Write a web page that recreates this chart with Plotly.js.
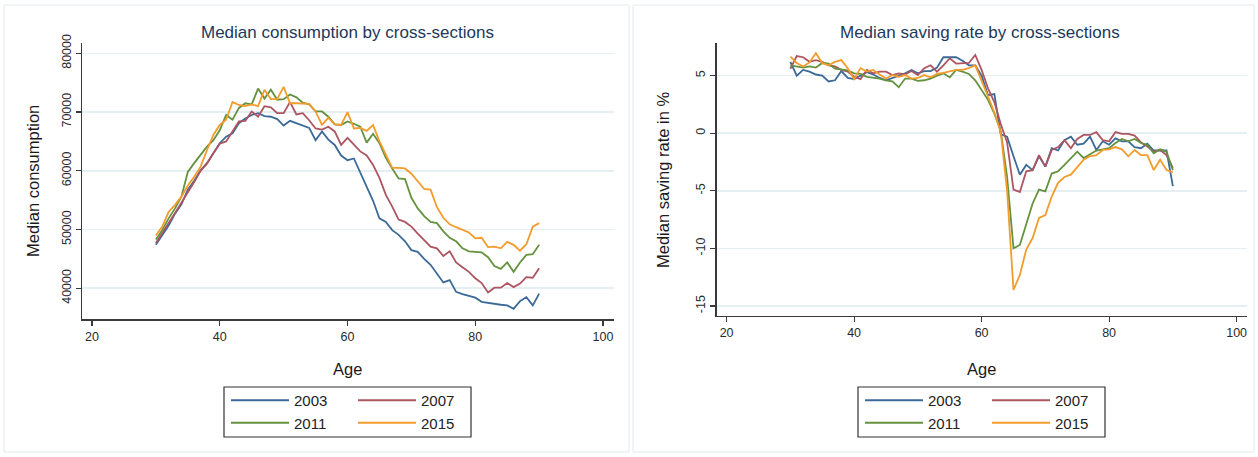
<!DOCTYPE html>
<html><head><meta charset="utf-8">
<script src="https://cdn.plot.ly/plotly-3.0.1.min.js"></script>
<style>html,body{margin:0;padding:0;background:#fff}#chart{width:1258px;height:457px}</style>
</head><body><div id="chart"></div>
<script>
// ---------- data ----------
const ages = [30,31,32,33,34,35,36,37,38,39,40,41,42,43,44,45,46,47,48,49,50,51,52,53,54,55,56,57,58,59,60,61,62,63,64,65,66,67,68,69,70,71,72,73,74,75,76,77,78,79,80,81,82,83,84,85,86,87,88,89,90];
const years = ['2003','2007','2011','2015'];

// Median consumption by cross-sections
const cons2003 = [47400,49000,50700,52700,54300,56800,58300,60100,61300,63000,64700,65800,66400,68100,68900,69500,69800,69300,69200,68800,67700,68500,68100,67800,67300,65200,66700,65300,64400,62600,61800,62100,59600,57400,54900,51900,51300,49900,49100,48000,46500,46200,45000,44000,42500,41000,41400,39400,39000,38700,38400,37700,37500,37300,37200,37100,36500,37800,38500,37100,39100];
const cons2007 = [47700,49300,51100,52800,54500,56400,58100,60000,61200,63000,64600,65000,66600,68400,68500,70100,69200,71000,70800,69800,69800,71700,69600,69800,68600,67200,67000,67500,66700,64400,65600,64500,63300,62600,61000,58800,55900,53900,51700,51300,50500,49300,48200,47100,46800,45500,46300,44400,43600,42800,41700,40900,39300,40100,40100,40900,40200,40800,41900,41800,43400];
const cons2011 = [48300,49900,51900,53600,55600,59800,61300,62700,64100,65200,66900,69500,68700,70700,71500,71300,74000,72300,73800,72100,72200,73000,72500,71600,71300,70100,70100,69200,67900,67800,68400,68000,67500,64800,66300,64700,62200,60400,58700,58600,55400,53600,52300,51300,51100,49700,48600,48000,46800,46300,46200,46100,45300,43800,43300,44400,42800,44400,45700,45800,47400];
const cons2015 = [49000,50500,53000,54200,55600,57500,59000,60700,63500,66100,67800,68700,71700,71200,71000,71300,71000,73800,72200,72200,74300,71500,71500,71500,71400,70100,67800,69000,67900,67800,70000,67200,67300,66800,67800,65000,62600,60500,60500,60400,59500,58200,56900,56800,53800,52000,50900,50400,49900,49500,48500,48600,47000,47100,46800,47900,47400,46400,47500,50500,51100];

// Median saving rate (%) by cross-sections
const sr2003 = [6.2,5.0,5.5,5.35,5.1,5.0,4.5,4.6,5.4,4.8,4.7,5.0,5.3,5.1,4.8,4.6,4.8,5.0,5.2,5.5,5.2,5.4,5.4,5.7,6.6,6.6,6.6,6.3,5.9,5.9,5.0,3.3,3.4,-0.1,-0.3,-2.0,-3.6,-2.75,-3.2,-2.0,-2.9,-1.3,-1.5,-0.6,-0.3,-1.0,-0.9,-0.3,-1.45,-0.7,-1.0,-0.45,-0.7,-0.7,-1.2,-1.3,-0.9,-1.5,-1.5,-1.5,-4.6];
const sr2007 = [5.6,6.7,6.6,6.2,6.35,6.2,5.9,5.8,5.5,5.35,4.9,4.7,5.5,5.2,5.35,5.35,5.05,5.2,5.1,5.4,5.05,5.65,5.9,5.35,5.9,6.5,6.05,6.05,6.1,6.8,5.5,3.9,2.7,0.8,-0.8,-4.9,-5.1,-3.3,-3.2,-1.9,-2.9,-1.45,-1.2,-0.6,-1.3,-0.5,-0.15,-0.15,0.1,-0.6,-0.7,0.1,-0.05,-0.05,-0.2,-0.8,-1.15,-1.6,-1.45,-1.9,-3.0];
const sr2011 = [5.9,5.8,5.7,5.8,5.7,6.1,6.05,5.6,5.5,5.45,5.2,5.15,4.9,4.85,4.75,4.6,4.5,4.0,4.75,4.75,4.55,4.6,4.75,5.0,5.2,4.85,5.5,5.35,5.15,4.6,3.8,2.9,1.7,0.2,-3.8,-10.0,-9.7,-8.0,-6.1,-4.9,-5.05,-3.5,-3.3,-2.75,-2.15,-1.6,-2.15,-1.8,-1.5,-1.4,-1.3,-0.85,-0.5,-0.7,-0.5,-0.85,-1.0,-1.75,-1.4,-1.6,-3.2];
const sr2015 = [6.65,6.1,5.8,6.15,6.95,6.1,5.9,6.2,6.35,5.65,4.7,5.65,5.35,5.5,5.1,4.75,5.05,4.9,5.05,4.75,4.8,5.05,4.85,5.15,5.25,5.35,5.5,5.5,5.65,5.9,4.6,3.2,1.8,0.1,-5.0,-13.6,-12.3,-10.1,-9.1,-7.35,-7.1,-5.5,-4.3,-3.8,-3.6,-2.9,-2.3,-2.0,-1.9,-1.45,-1.4,-1.2,-1.4,-2.0,-1.45,-1.9,-1.9,-3.2,-2.3,-3.2,-3.4];

const xTicks = [20,40,60,80,100];
const consTicks = [40000,50000,60000,70000,80000];
const srTicks = [-15,-10,-5,0,5];
const srTickText = ['-15','-10','-5','0','5'];

// ---------- styling ----------
const W = 1258, H = 457;
const px = v => v / W;
const py = v => 1 - v / H;
const FONT = 'Liberation Sans, Arial, Helvetica, sans-serif';
const colors = ['#3b6a98','#ad5561','#64923f','#f39b2b'];
const consSeries = [cons2003, cons2007, cons2011, cons2015];
const srSeries = [sr2003, sr2007, sr2011, sr2015];
const leftLegends = ['legend','legend2','legend','legend2'];
const rightLegends = ['legend3','legend4','legend3','legend4'];

const traces = [];
years.forEach((yr, i) => {
  traces.push({x: ages, y: consSeries[i], type: 'scatter', mode: 'lines', name: yr,
    line: {color: colors[i], width: 1.8}, xaxis: 'x', yaxis: 'y', legend: leftLegends[i], hoverinfo: 'skip'});
});
years.forEach((yr, i) => {
  traces.push({x: ages, y: srSeries[i], type: 'scatter', mode: 'lines', name: yr,
    line: {color: colors[i], width: 1.8}, xaxis: 'x2', yaxis: 'y2', legend: rightLegends[i], hoverinfo: 'skip'});
});

const axisCommon = {
  showline: true, linecolor: '#3a3a3a', linewidth: 1.2, ticks: 'outside', ticklen: 5,
  tickcolor: '#3a3a3a', tickwidth: 1.2, zeroline: false, fixedrange: true,
  tickfont: {family: FONT, size: 12.5, color: '#2a2a2a'}
};
const legendCommon = {xanchor: 'left', yanchor: 'top', bgcolor: 'rgba(0,0,0,0)', borderwidth: 0,
  font: {family: FONT, size: 15, color: '#222'}, itemwidth: 58, tracegroupgap: 0, orientation: 'v'};

const layout = {
  width: W, height: H, margin: {l: 0, r: 0, t: 0, b: 0},
  paper_bgcolor: '#fff', plot_bgcolor: '#fff', showlegend: true,
  font: {family: FONT},
  xaxis: Object.assign({}, axisCommon, {domain: [px(82.4), px(613.9)], range: [18.5, 101.7], tickvals: xTicks, showgrid: false, anchor: 'y'}),
  yaxis: Object.assign({}, axisCommon, {domain: [py(319.3), py(43.3)], range: [34723, 81702], tickvals: consTicks, tickformat: 'd', tickangle: -90,
    showgrid: true, gridcolor: '#e5eef1', gridwidth: 1.6, anchor: 'x'}),
  xaxis2: Object.assign({}, axisCommon, {domain: [px(716.6), px(1247.2)], range: [18.43, 101.66], tickvals: xTicks, showgrid: false, anchor: 'y2'}),
  yaxis2: Object.assign({}, axisCommon, {domain: [py(316), py(43.3)], range: [-15.87, 7.81], tickvals: srTicks, ticktext: srTickText, tickangle: -90,
    showgrid: true, gridcolor: '#e5eef1', gridwidth: 1.6, anchor: 'x2'}),
  legend: Object.assign({}, legendCommon, {x: px(226), y: py(384)}),
  legend2: Object.assign({}, legendCommon, {x: px(353), y: py(384)}),
  legend3: Object.assign({}, legendCommon, {x: px(860), y: py(384)}),
  legend4: Object.assign({}, legendCommon, {x: px(987), y: py(384)}),
  shapes: [
    {type: 'rect', xref: 'paper', yref: 'paper', x0: px(4), x1: px(629), y0: py(452), y1: py(5), line: {color: '#e4eaed', width: 1}},
    {type: 'rect', xref: 'paper', yref: 'paper', x0: px(633), x1: px(1254), y0: py(452), y1: py(5), line: {color: '#e4eaed', width: 1}},
    {type: 'rect', xref: 'paper', yref: 'paper', x0: px(224), x1: px(471), y0: py(437), y1: py(387), line: {color: '#333', width: 1.2}},
    {type: 'rect', xref: 'paper', yref: 'paper', x0: px(858), x1: px(1105), y0: py(437), y1: py(387), line: {color: '#333', width: 1.2}}
  ],
  annotations: [
    {text: 'Median consumption by cross-sections', xref: 'paper', yref: 'paper', x: px(348), y: py(32), showarrow: false, xanchor: 'center', yanchor: 'middle',
      font: {family: FONT, size: 17, color: '#22385a'}},
    {text: 'Median saving rate by cross-sections', xref: 'paper', yref: 'paper', x: px(980), y: py(32), showarrow: false, xanchor: 'center', yanchor: 'middle',
      font: {family: FONT, size: 17, color: '#22385a'}},
    {text: 'Median consumption', xref: 'paper', yref: 'paper', x: px(33), y: py(181), showarrow: false, textangle: -90, xanchor: 'center', yanchor: 'middle',
      font: {family: FONT, size: 16.5, color: '#1a1a1a'}},
    {text: 'Median saving rate in %', xref: 'paper', yref: 'paper', x: px(663), y: py(180), showarrow: false, textangle: -90, xanchor: 'center', yanchor: 'middle',
      font: {family: FONT, size: 16.5, color: '#1a1a1a'}},
    {text: 'Age', xref: 'paper', yref: 'paper', x: px(348), y: py(369), showarrow: false, xanchor: 'center', yanchor: 'middle',
      font: {family: FONT, size: 16.5, color: '#1a1a1a'}},
    {text: 'Age', xref: 'paper', yref: 'paper', x: px(981), y: py(369), showarrow: false, xanchor: 'center', yanchor: 'middle',
      font: {family: FONT, size: 16.5, color: '#1a1a1a'}}
  ]
};

Plotly.newPlot('chart', traces, layout, {displayModeBar: false, staticPlot: true});
</script>
</body></html>
